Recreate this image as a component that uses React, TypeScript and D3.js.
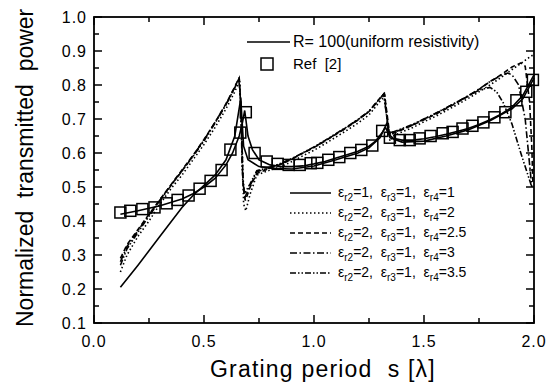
import React from "react";
import * as d3 from "d3";

// ---------- data ----------
const xTickVals = [0, 0.5, 1.0, 1.5, 2.0];
const xTickLabels = ["0.0", "0.5", "1.0", "1.5", "2.0"];
const yTickVals = [0.1, 0.2, 0.3, 0.4, 0.5, 0.6, 0.7, 0.8, 0.9, 1.0];
const yTickLabels = ["0.1", "0.2", "0.3", "0.4", "0.5", "0.6", "0.7", "0.8", "0.9", "1.0"];

// Ref [2] squares
const refS = [0.12, 0.165, 0.22, 0.275, 0.33, 0.38, 0.43, 0.48, 0.53, 0.58, 0.62, 0.665, 0.69, 0.73, 0.785, 0.835, 0.885, 0.935, 0.985, 1.015, 1.065, 1.115, 1.165, 1.215, 1.265, 1.31, 1.345, 1.39, 1.435, 1.48, 1.53, 1.585, 1.63, 1.675, 1.72, 1.77, 1.82, 1.87, 1.92, 1.965, 1.995];
const refV = [0.425, 0.43, 0.435, 0.44, 0.452, 0.462, 0.475, 0.495, 0.518, 0.55, 0.61, 0.66, 0.72, 0.6, 0.575, 0.568, 0.565, 0.565, 0.57, 0.571, 0.58, 0.588, 0.6, 0.609, 0.622, 0.665, 0.645, 0.638, 0.638, 0.643, 0.65, 0.658, 0.662, 0.672, 0.68, 0.69, 0.705, 0.72, 0.755, 0.78, 0.815];

// R = 100 (uniform resistivity), solid
const uniS = [0.12, 0.2, 0.3, 0.4, 0.45, 0.5, 0.55, 0.6, 0.63, 0.66, 0.675, 0.685, 0.7, 0.72, 0.75, 0.8, 0.85, 0.9, 0.95, 1.0, 1.05, 1.1, 1.15, 1.2, 1.25, 1.28, 1.31, 1.325, 1.34, 1.36, 1.4, 1.45, 1.5, 1.55, 1.6, 1.65, 1.7, 1.75, 1.8, 1.85, 1.9, 1.95, 2.0];
const uniV = [0.42, 0.43, 0.445, 0.465, 0.48, 0.5, 0.525, 0.565, 0.6, 0.65, 0.69, 0.725, 0.65, 0.61, 0.58, 0.565, 0.56, 0.56, 0.562, 0.568, 0.575, 0.585, 0.595, 0.605, 0.62, 0.635, 0.66, 0.675, 0.655, 0.643, 0.638, 0.638, 0.642, 0.648, 0.655, 0.663, 0.672, 0.684, 0.698, 0.714, 0.735, 0.77, 0.83];

// er2=1, er3=1, er4=1 (solid)
const e1S = [0.12, 0.2, 0.3, 0.4, 0.45, 0.5, 0.55, 0.6, 0.64, 0.667, 0.68, 0.7, 0.75, 0.8, 0.9, 1.0, 1.1, 1.2, 1.25, 1.3, 1.333, 1.345, 1.4, 1.5, 1.6, 1.7, 1.8, 1.9, 1.95, 2.0];
const e1V = [0.205, 0.27, 0.355, 0.44, 0.475, 0.505, 0.535, 0.58, 0.65, 0.76, 0.62, 0.58, 0.56, 0.555, 0.553, 0.562, 0.58, 0.6, 0.615, 0.645, 0.69, 0.645, 0.632, 0.635, 0.65, 0.668, 0.695, 0.73, 0.76, 0.82];

// er2=2, er3=1, er4=2 (dotted)
const e2S = [0.12, 0.15, 0.2, 0.25, 0.3, 0.35, 0.4, 0.45, 0.5, 0.55, 0.6, 0.64, 0.662, 0.672, 0.68, 0.69, 0.71, 0.74, 0.8, 0.85, 0.9, 0.95, 1.0, 1.05, 1.1, 1.15, 1.2, 1.25, 1.3, 1.322, 1.335, 1.345, 1.36, 1.4, 1.45, 1.5, 1.55, 1.6, 1.65, 1.7, 1.75, 1.8, 1.85, 1.9, 1.95, 1.98, 2.0];
const e2V = [0.25, 0.3, 0.355, 0.4, 0.45, 0.495, 0.535, 0.58, 0.625, 0.675, 0.73, 0.78, 0.815, 0.66, 0.45, 0.43, 0.48, 0.535, 0.55, 0.56, 0.575, 0.592, 0.608, 0.627, 0.647, 0.667, 0.688, 0.712, 0.752, 0.768, 0.69, 0.635, 0.65, 0.662, 0.675, 0.692, 0.707, 0.724, 0.742, 0.76, 0.78, 0.8, 0.822, 0.845, 0.868, 0.882, 0.89];

// er2=2, er3=1, er4=2.5 (dashed)
const e25S = [0.12, 0.15, 0.2, 0.25, 0.3, 0.35, 0.4, 0.45, 0.5, 0.55, 0.6, 0.64, 0.66, 0.67, 0.678, 0.688, 0.71, 0.74, 0.8, 0.85, 0.9, 0.95, 1.0, 1.05, 1.1, 1.15, 1.2, 1.25, 1.3, 1.32, 1.335, 1.345, 1.36, 1.4, 1.45, 1.5, 1.55, 1.6, 1.65, 1.7, 1.75, 1.8, 1.85, 1.9, 1.94, 1.96, 1.98, 1.99, 1.995];
const e25V = [0.29, 0.33, 0.375, 0.42, 0.463, 0.507, 0.55, 0.593, 0.64, 0.69, 0.745, 0.795, 0.822, 0.7, 0.5, 0.46, 0.5, 0.54, 0.555, 0.567, 0.582, 0.6, 0.616, 0.635, 0.655, 0.675, 0.697, 0.722, 0.762, 0.775, 0.7, 0.65, 0.658, 0.668, 0.682, 0.698, 0.713, 0.73, 0.748, 0.767, 0.787, 0.81, 0.83, 0.853, 0.865, 0.855, 0.75, 0.62, 0.51];

// er2=2, er3=1, er4=3 (dash-dot)
const e3S = [0.12, 0.15, 0.2, 0.25, 0.3, 0.35, 0.4, 0.45, 0.5, 0.55, 0.6, 0.64, 0.66, 0.668, 0.676, 0.686, 0.71, 0.74, 0.8, 0.85, 0.9, 0.95, 1.0, 1.05, 1.1, 1.15, 1.2, 1.25, 1.3, 1.318, 1.33, 1.342, 1.36, 1.4, 1.45, 1.5, 1.55, 1.6, 1.65, 1.7, 1.75, 1.8, 1.85, 1.88, 1.9, 1.93, 1.96, 1.975, 1.99];
const e3V = [0.28, 0.325, 0.372, 0.418, 0.462, 0.506, 0.548, 0.592, 0.638, 0.69, 0.743, 0.793, 0.82, 0.74, 0.52, 0.47, 0.505, 0.545, 0.557, 0.568, 0.583, 0.6, 0.617, 0.636, 0.656, 0.676, 0.698, 0.722, 0.76, 0.774, 0.71, 0.655, 0.66, 0.67, 0.683, 0.7, 0.715, 0.732, 0.75, 0.768, 0.788, 0.81, 0.828, 0.835, 0.83, 0.8, 0.7, 0.6, 0.5];

// er2=2, er3=1, er4=3.5 (dash-dot-dot)
const e35S = [0.12, 0.15, 0.2, 0.25, 0.3, 0.35, 0.4, 0.45, 0.5, 0.55, 0.6, 0.64, 0.658, 0.666, 0.674, 0.684, 0.71, 0.74, 0.8, 0.85, 0.9, 0.95, 1.0, 1.05, 1.1, 1.15, 1.2, 1.25, 1.3, 1.316, 1.328, 1.34, 1.36, 1.4, 1.45, 1.5, 1.55, 1.6, 1.65, 1.7, 1.75, 1.8, 1.83, 1.86, 1.9, 1.94, 1.97, 1.99];
const e35V = [0.27, 0.318, 0.367, 0.414, 0.46, 0.504, 0.547, 0.59, 0.636, 0.688, 0.742, 0.792, 0.818, 0.76, 0.55, 0.48, 0.51, 0.548, 0.558, 0.57, 0.584, 0.601, 0.618, 0.637, 0.657, 0.677, 0.699, 0.723, 0.76, 0.773, 0.72, 0.66, 0.662, 0.672, 0.685, 0.7, 0.716, 0.733, 0.75, 0.767, 0.785, 0.793, 0.78, 0.748, 0.685, 0.6, 0.54, 0.5];

const legendEr2 = ["1", "2", "2", "2", "2"];
const legendEr3 = ["1", "1", "1", "1", "1"];
const legendEr4 = ["1", "2", "2.5", "3", "3.5"];
const legendDash = ["none", "1.5,2.5", "5,3", "7,2.5,1.5,2.5", "6,2,1.5,2,1.5,2"];

// ---------- layout ----------
const W = 550, H = 385;
const L = 94, R = 534, T = 17, B = 323;
const FONT = "'Liberation Sans', Arial, Helvetica, sans-serif";

const x = d3.scaleLinear().domain([0, 2]).range([L, R]);
const y = d3.scaleLinear().domain([0.1, 1.0]).range([B, T]);

const lineGen = d3
  .line<[number, number]>()
  .x((d) => x(d[0]))
  .y((d) => y(d[1]));

const zip = (s: number[], v: number[]) => s.map((d, i) => [d, v[i]] as [number, number]);

const curves = [
  { pts: zip(uniS, uniV), dash: "none" },
  { pts: zip(e1S, e1V), dash: legendDash[0] },
  { pts: zip(e2S, e2V), dash: legendDash[1] },
  { pts: zip(e25S, e25V), dash: legendDash[2] },
  { pts: zip(e3S, e3V), dash: legendDash[3] },
  { pts: zip(e35S, e35V), dash: legendDash[4] },
];

function EpsLabel({ xp, yp, i }: { xp: number; yp: number; i: number }) {
  const big = 14;
  const small = 10;
  const sh = 4;
  return (
    <text x={xp} y={yp} fontSize={big} fontFamily={FONT} style={{ whiteSpace: "pre" }} fill="#000">
      <tspan>ε</tspan>
      <tspan dy={sh} fontSize={small}>r2</tspan>
      <tspan dy={-sh}>{"=" + legendEr2[i] + ",  ε"}</tspan>
      <tspan dy={sh} fontSize={small}>r3</tspan>
      <tspan dy={-sh}>{"=" + legendEr3[i] + ",  ε"}</tspan>
      <tspan dy={sh} fontSize={small}>r4</tspan>
      <tspan dy={-sh}>{"=" + legendEr4[i]}</tspan>
    </text>
  );
}

export default function App() {
  const xMinor = d3.range(0, 2.0001, 0.25);
  const yMinor = d3.range(0.1, 1.0001, 0.05);
  return (
    <div style={{ position: "absolute", left: 0, top: 0 }}>
      <svg width={W} height={H} viewBox={`0 0 ${W} ${H}`} style={{ display: "block", background: "#fff" }}>
        <rect x={0} y={0} width={W} height={H} fill="#fff" />
        {/* curves */}
        <g fill="none" stroke="#000" strokeWidth={1.6}>
          {curves.map((c, i) => (
            <path key={i} d={lineGen(c.pts) || ""} strokeDasharray={c.dash === "none" ? undefined : c.dash} />
          ))}
        </g>
        {/* squares */}
        <g fill="none" stroke="#000" strokeWidth={1.5}>
          {refS.map((s, i) => (
            <rect key={i} x={x(s) - 5.5} y={y(refV[i]) - 5.5} width={11} height={11} />
          ))}
        </g>
        {/* frame */}
        <rect x={L} y={T} width={R - L} height={B - T} fill="none" stroke="#000" strokeWidth={1.8} />
        {/* ticks */}
        <g stroke="#000" strokeWidth={1.5}>
          {xMinor.map((v, i) => {
            const major = Math.abs(v * 2 - Math.round(v * 2)) < 1e-6;
            const len = major ? 8 : 5;
            return (
              <g key={"xt" + i}>
                <line x1={x(v)} x2={x(v)} y1={B} y2={B - len} />
                <line x1={x(v)} x2={x(v)} y1={T} y2={T + len} />
              </g>
            );
          })}
          {yMinor.map((v, i) => {
            const major = Math.abs(v * 10 - Math.round(v * 10)) < 1e-6;
            const len = major ? 8 : 5;
            return (
              <g key={"yt" + i}>
                <line x1={L} x2={L + len} y1={y(v)} y2={y(v)} />
                <line x1={R} x2={R - len} y1={y(v)} y2={y(v)} />
              </g>
            );
          })}
        </g>
        {/* tick labels */}
        <g fontFamily={FONT} fontSize={16} fill="#000">
          {xTickVals.map((v, i) => (
            <text key={"xl" + i} x={x(v)} y={347} textAnchor="middle" letterSpacing={1}>
              {xTickLabels[i]}
            </text>
          ))}
          {yTickVals.map((v, i) => (
            <text key={"yl" + i} x={87} y={y(v) + 6} textAnchor="end" letterSpacing={1}>
              {yTickLabels[i]}
            </text>
          ))}
        </g>
        {/* axis titles */}
        <text x={210} y={377} fontFamily={FONT} fontSize={23} letterSpacing={1.2} fill="#000" style={{ whiteSpace: "pre" }}>
          Grating period  s [λ]
        </text>
        <text
          transform={`translate(33,327) rotate(-90)`}
          fontFamily={FONT}
          fontSize={23}
          fill="#000"
          style={{ whiteSpace: "pre" }}
        >
          Normalized  transmitted  power
        </text>
        {/* top legend */}
        <line x1={247} x2={290} y1={42} y2={42} stroke="#000" strokeWidth={1.6} />
        <text x={293} y={47} fontFamily={FONT} fontSize={16} fill="#000">
          R= 100(uniform resistivity)
        </text>
        <rect x={261} y={58} width={12} height={12} fill="none" stroke="#000" strokeWidth={1.5} />
        <text x={293} y={69} fontFamily={FONT} fontSize={15} fill="#000" style={{ whiteSpace: "pre" }}>
          Ref  [2]
        </text>
        {/* bottom legend */}
        {legendEr4.map((_, i) => {
          const yy = 193 + i * 20;
          return (
            <g key={"lg" + i}>
              <line
                x1={290}
                x2={331}
                y1={yy}
                y2={yy}
                stroke="#000"
                strokeWidth={1.6}
                strokeDasharray={legendDash[i] === "none" ? undefined : legendDash[i]}
              />
              <EpsLabel xp={338} yp={yy + 4} i={i} />
            </g>
          );
        })}
      </svg>
    </div>
  );
}
